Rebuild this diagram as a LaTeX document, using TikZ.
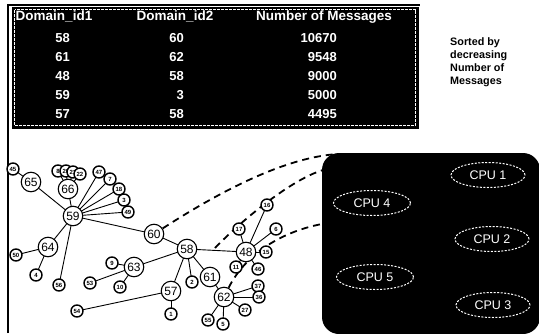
\documentclass[tikz,border=0pt]{standalone}
\usepackage{fontspec}
\setmainfont{Liberation Sans}
\usetikzlibrary{shapes.geometric,backgrounds}
\begin{document}
\begin{tikzpicture}[x=1pt,y=-1pt,
  big/.style={circle,draw,fill=white,line width=1.1pt,minimum size=19.5pt,inner sep=0pt,font=\fontsize{12}{12}\selectfont},
  small/.style={circle,draw,fill=white,line width=1.4pt,minimum size=12pt,inner sep=0pt,font=\bfseries\fontsize{6}{6}\selectfont},
  link/.style={line width=0.9pt},
  dashlink/.style={line width=1.8pt,dash pattern=on 7pt off 5pt},
  cpu/.style={ellipse,draw=white,line width=1pt,dash pattern=on 2pt off 1.5pt,text=white,minimum width=74pt,minimum height=25pt,inner sep=0pt,font=\fontsize{12.5}{12.5}\selectfont},
  hdr/.style={text=white,anchor=base,inner sep=0pt,font=\bfseries\fontsize{13.5}{14}\selectfont},
  cell/.style={text=white,anchor=base east,inner sep=0pt,font=\bfseries\fontsize{13}{14}\selectfont},
  tablebox/.style={fill=black,draw=black,line width=0.8pt,inner sep=0pt},
  cpubox/.style={fill=black,rounded corners=17pt,inner sep=0pt}
]
\useasboundingbox (0,0) rectangle (539,333);
% frame
\draw[line width=1.2pt] (8,333) -- (8,5) -- (420,5);
% table
\node[tablebox,minimum width=406pt,minimum height=121pt] (table) at (215,67.5) {};
\draw[white,line width=0.7pt,dash pattern=on 3pt off 1pt] ([shift={(3,3)}]table.north west) rectangle ([shift={(-3,-3)}]table.south east);
\node[hdr] (h1) at (54,20) {Domain\_id1};
\node[hdr] (h2) at (175,20) {Domain\_id2};
\node[hdr] (h3) at (324,20) {Number of Messages};
\foreach \a/\b/\c [count=\i] in {58/60/10670,61/62/9548,48/58/9000,59/3/5000,57/58/4495}{
  \node[cell] (ca\i) at (70,23.5+19*\i) {\a};
  \node[cell] (cb\i) at (184,23.5+19*\i) {\b};
  \node[cell] (cc\i) at (337,23.5+19*\i) {\c};
}
\node[anchor=north west,align=left,inner sep=0pt,font=\bfseries\fontsize{10.8}{13}\selectfont] (note) at (450,37) {Sorted by\\decreasing\\Number of\\Messages};
% CPU box
\node[cpubox,minimum width=218pt,minimum height=181pt] (cpus) at (431,243.5) {};
\node[cpu] (cpu1) at (488,175) {CPU 1};
\node[cpu,minimum width=77pt] (cpu4) at (372,203) {CPU 4};
\node[cpu] (cpu2) at (492,239) {CPU 2};
\node[cpu,minimum width=77pt] (cpu5) at (375,277) {CPU 5};
\node[cpu] (cpu3) at (493,305) {CPU 3};
% graph nodes
\node[small] (s45) at (13,169) {45};
\node[big] (n65) at (31,182) {65};
\node[big] (n66) at (68,189) {66};
\node[big] (n59) at (73,216) {59};
\node[big] (n60) at (154,234) {60};
\node[big] (n64) at (48,247) {64};
\node[big] (n63) at (134,267) {63};
\node[big] (n57) at (171,291) {57};
\node[big] (n58) at (187,249) {58};
\node[big] (n48) at (246,252) {48};
\node[big] (n61) at (210,277) {61};
\node[big] (n62) at (224,297) {62};
\node[small] (k1) at (58,171) {8};
\node[small] (k2) at (66,171) {20};
\node[small] (k3) at (73,172) {21};
\node[small] (k4) at (80,174) {22};
\node[small] (t1) at (99,172) {47};
\node[small] (t2) at (110,179) {7};
\node[small] (t3) at (119,189) {18};
\node[small] (t4) at (124,200) {3};
\node[small] (t5) at (128,212) {49};
\node[small] (u1) at (16,255) {50};
\node[small] (u2) at (36,275) {4};
\node[small] (u3) at (59,285) {56};
\node[small] (v1) at (112,263) {9};
\node[small] (v2) at (90,283) {53};
\node[small] (v3) at (120,287) {10};
\node[small] (w1) at (171,314) {1};
\node[small] (w2) at (77,311) {54};
\node[small] (x1) at (192,282) {2};
\node[small] (y1) at (267,205) {16};
\node[small] (y2) at (239,229) {17};
\node[small] (y3) at (276,229) {6};
\node[small] (y4) at (266,252) {15};
\node[small] (y5) at (236,267) {11};
\node[small] (y6) at (258,269) {46};
\node[small] (z1) at (258,286) {37};
\node[small] (z2) at (259,297) {36};
\node[small] (z3) at (245,310) {27};
\node[small] (z4) at (223,324) {5};
\node[small] (z5) at (208,320) {55};
% edges and dashed connectors behind the nodes
\coordinate (d2) at (215,248);
\coordinate (end1) at (338,154);
\coordinate (end2) at (323,170);
\coordinate (end3) at (322,224);
\begin{pgfonlayer}{background}
\foreach \a/\b in {s45/n65,n65/n59,n66/n59,n66/k1,n66/k2,n66/k3,n66/k4,n59/t1,n59/t2,n59/t3,n59/t4,n59/t5,
  n59/n60,n60/n58,n59/n64,n64/u1,n64/u2,n59/u3,n58/n63,n63/v1,n63/v2,n63/v3,n58/n57,n57/w1,n57/w2,n58/x1,
  n58/n61,n61/n62,n58/n48,n48/y1,n48/y2,n48/y3,n48/y4,n48/y5,n48/y6,n62/z1,n62/z2,n62/z3,n62/z4,n62/z5}
  \draw[link] (\a.center) -- (\b.center);
\draw[dashlink] (n60) .. controls (230,185) and (290,157) .. (end1);
\draw[dashlink] (d2) .. controls (240,222) and (290,180) .. (end2);
\draw[dashlink] (n62) .. controls (245,255) and (280,232) .. (end3);
\end{pgfonlayer}
\end{tikzpicture}
\end{document}
